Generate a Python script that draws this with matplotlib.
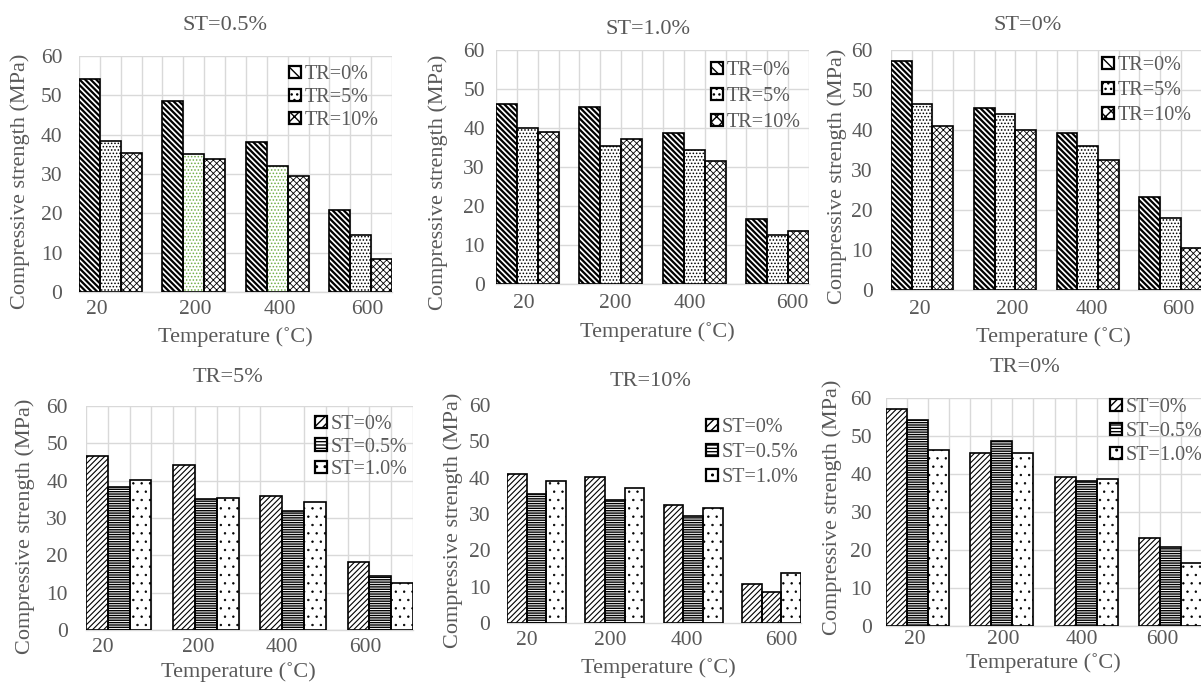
import matplotlib
matplotlib.use('Agg')
import matplotlib.pyplot as plt
from matplotlib.patches import Patch
import numpy as np

W, H = 1201, 683

# ---------------- data (compressive strength, MPa) ----------------
temps = ['20', '200', '400', '600']
st0_tr0 = [57.2, 45.6, 39.2, 23.2]
st0_tr5 = [46.5, 44.1, 36.0, 18.1]
st0_tr10 = [40.9, 40.1, 32.4, 10.6]
st05_tr0 = [54.1, 48.6, 38.2, 20.8]
st05_tr5 = [38.4, 35.2, 32.0, 14.5]
st05_tr10 = [35.4, 33.8, 29.4, 8.4]
st10_tr0 = [46.2, 45.4, 38.6, 16.6]
st10_tr5 = [40.1, 35.3, 34.4, 12.6]
st10_tr10 = [39.1, 37.2, 31.6, 13.7]
tr_labels = ['TR=0%', 'TR=5%', 'TR=10%']
st_labels = ['ST=0%', 'ST=0.5%', 'ST=1.0%']
y_ticks = [0, 10, 20, 30, 40, 50, 60]

# ---------------- styles ----------------
plt.rcParams['font.family'] = ['Liberation Serif', 'DejaVu Serif']
GRAY = '#595959'
GRID = '#d9d9d9'
GREEN = '#70ad47'
tr_hatch = ['\\' * 6, '.....', 'xxxxx']
tr_hlw = [1.6, 0.7, 0.6]
st_hatch = ['//////', '-------', '..']
st_hlw = [0.8, 1.0, 0.5]
leg_hatch_tr = ['\\\\\\', '...', 'xxx']
leg_hatch_st = ['////', '-----', '..']

panels = [
    dict(title='ST=0.5%', series=[st05_tr0, st05_tr5, st05_tr10], labels=tr_labels, hatch=tr_hatch, hlw=tr_hlw,
         lh=leg_hatch_tr,
         box=(79, 392, 56, 292), xt=[0.85, 5.56, 9.63, 13.8], title_xy=(225, 25), xlabel_xy=(235, 337),
         ylabel_xy=(20, 181), leg_xy=(289, 65), ls=0.2, grid=True, xpad=5.5, ypad=12,
         hcolor={(1, 1): GREEN, (1, 2): GREEN}),
    dict(title='ST=1.0%', series=[st10_tr0, st10_tr5, st10_tr10], labels=tr_labels, hatch=tr_hatch, hlw=tr_hlw,
         lh=leg_hatch_tr,
         box=(496, 809, 50, 284), xt=[1.34, 5.7, 9.3, 14.2], title_xy=(648, 29), xlabel_xy=(657, 332),
         ylabel_xy=(438, 182), leg_xy=(711, 61), ls=0.35, grid=True, xpad=7.5, ypad=8),
    dict(title='ST=0%', series=[st0_tr0, st0_tr5, st0_tr10], labels=tr_labels, hatch=tr_hatch, hlw=tr_hlw,
         lh=leg_hatch_tr,
         box=(891, 1201.5, 50, 290), xt=[1.4, 5.85, 9.7, 13.9], title_xy=(1028, 25), xlabel_xy=(1053, 337),
         ylabel_xy=(837, 176), leg_xy=(1102, 56), ls=0.3, grid=True, xpad=7, ypad=13),
    dict(title='TR=5%', series=[st0_tr5, st05_tr5, st10_tr5], labels=st_labels, hatch=st_hatch, hlw=st_hlw,
         lh=leg_hatch_st,
         box=(86, 413, 406, 630), xt=[0.78, 5.14, 9.0, 12.8], title_xy=(228, 377), xlabel_xy=(238, 672),
         ylabel_xy=(25, 526), leg_xy=(315, 415), ls=0.175, grid=True, xpad=5.5, ypad=13),
    dict(title='TR=10%', series=[st0_tr10, st05_tr10, st10_tr10], labels=st_labels, hatch=st_hatch, hlw=st_hlw,
         lh=leg_hatch_st,
         box=(507, 801, 405, 623), xt=[1.02, 5.26, 9.2, 14.0], title_xy=(650, 382), xlabel_xy=(658, 668),
         ylabel_xy=(453, 520), leg_xy=(706, 418), ls=0.3, grid=False, xpad=6, ypad=12,
         hoverride={(1, 3): '//////'}),
    dict(title='TR=0%', series=[st0_tr0, st05_tr0, st10_tr0], labels=st_labels, hatch=st_hatch, hlw=st_hlw,
         lh=leg_hatch_st,
         box=(886, 1202, 398, 626), xt=[1.37, 5.55, 9.3, 13.1], title_xy=(1025, 367), xlabel_xy=(1043, 663),
         ylabel_xy=(832, 507), leg_xy=(1110, 398), ls=0.25, grid=True, xpad=3, ypad=10),
]

fig = plt.figure(figsize=(W / 100, H / 100), dpi=100)
fig.patch.set_facecolor('white')

group_starts = np.arange(len(temps)) * 4


def set_hlw(artist, lw):
    if hasattr(artist, 'set_hatch_linewidth'):
        artist.set_hatch_linewidth(lw)


for p in panels:
    l, r, t, b = p['box']
    ax = fig.add_axes([l / W, 1 - b / H, (r - l) / W, (b - t) / H])
    ax.set_xlim(0, 15)
    ax.set_ylim(0, 60)
    hcolor = p.get('hcolor', {})
    hover = p.get('hoverride', {})
    for i, vals in enumerate(p['series']):
        pos = group_starts + i + 0.5
        bars = ax.bar(pos, vals, width=1.0, facecolor='white', edgecolor='black',
                      linewidth=0, hatch=p['hatch'][i], zorder=2)
        for j, bar in enumerate(bars):
            if (i, j) in hcolor:
                bar.set_edgecolor(hcolor[(i, j)])
            if (i, j) in hover:
                bar.set_hatch(hover[(i, j)])
                set_hlw(bar, st_hlw[0])
            else:
                set_hlw(bar, p['hlw'][i])
        ax.bar(pos, vals, width=1.0, fill=False, edgecolor='black', linewidth=1.2, zorder=3)

    ax.set_yticks(y_ticks)
    ax.set_xticks(p['xt'])
    ax.set_xticklabels(temps)
    ax.set_xticks(np.arange(16), minor=True)
    ax.tick_params(axis='both', which='both', length=0, colors=GRAY, labelsize=15.5)
    ax.tick_params(axis='x', pad=p['xpad'])
    ax.tick_params(axis='y', pad=p['ypad'])
    for s in ['top', 'right', 'left']:
        ax.spines[s].set_visible(False)
    ax.spines['bottom'].set_color(GRID)
    ax.spines['bottom'].set_linewidth(1.0)
    if p['grid']:
        ax.grid(True, axis='y', which='major', color=GRID, linewidth=1.0, zorder=0)
        ax.grid(True, axis='x', which='minor', color=GRID, linewidth=1.0, zorder=0)
    ax.set_axisbelow(True)

    handles = []
    for i, lab in enumerate(p['labels']):
        h = Patch(facecolor='white', edgecolor='black', hatch=p['lh'][i], linewidth=1.6, label=lab)
        handles.append(h)
    leg = ax.legend(handles=handles, loc='upper left',
                    bbox_to_anchor=(p['leg_xy'][0] / W, 1 - p['leg_xy'][1] / H),
                    bbox_transform=fig.transFigure, frameon=False, fontsize=14.5,
                    borderpad=0, borderaxespad=0, handlelength=0.6, handleheight=0.6,
                    handletextpad=0.2, labelspacing=p['ls'])
    for txt in leg.get_texts():
        txt.set_color(GRAY)

    fig.text(p['title_xy'][0] / W, 1 - p['title_xy'][1] / H, p['title'], ha='center', va='center',
             fontsize=16, color=GRAY)
    fig.text(p['xlabel_xy'][0] / W, 1 - p['xlabel_xy'][1] / H, 'Temperature (˚C)', ha='center',
             va='center', fontsize=16, color=GRAY)
    fig.text(p['ylabel_xy'][0] / W, 1 - p['ylabel_xy'][1] / H, 'Compressive strength (MPa)',
             ha='center', va='center', rotation=90, fontsize=16, color=GRAY)

fig.savefig('out.png', dpi=100, facecolor='white')
